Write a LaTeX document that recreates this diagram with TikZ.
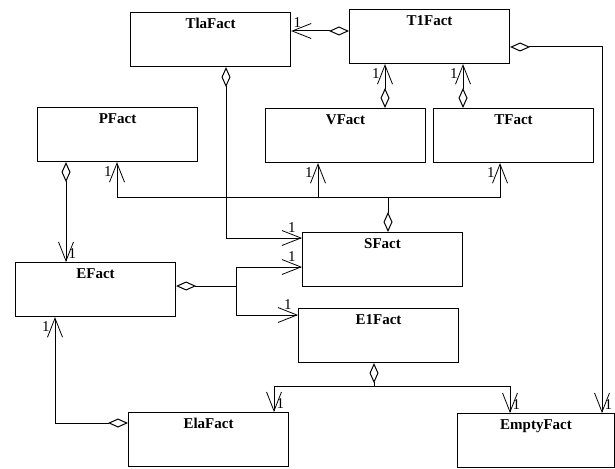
\documentclass[tikz,border=0pt]{standalone}
\usepackage{fontspec}
\setmainfont{Liberation Serif}
\usetikzlibrary{arrows.meta}

\begin{document}
\begin{tikzpicture}[
    x=1pt, y=-1pt,
    every node/.style={font=\fontsize{15}{17}\selectfont},
    cls/.style={
        draw, rectangle, line width=1.1pt, anchor=north west,
        minimum width=160pt, minimum height=54pt, inner ysep=4pt,
        text height=12pt, text depth=34pt,
        font=\fontsize{15}{17}\selectfont\bfseries,
    },
    line/.style={line width=1pt},
    agg/.style={line, {Diamond[open, length=20pt, width=9pt]}-{Straight Barb[length=19pt, width=15pt, line width=0.8pt]}},
    arr/.style={line, -{Straight Barb[length=19pt, width=15pt, line width=0.8pt]}},
    dia/.style={line, {Diamond[open, length=20pt, width=9pt]}-},
    mult/.style={inner sep=1pt},
]
\useasboundingbox (0,0) rectangle (615,468);

% ============================================================ the classes
\node[cls] (TlaFact) at (130,12) {TlaFact};
\node[cls] (T1Fact) at (349,9) {T1Fact};
\node[cls] (PFact) at (37,107) {PFact};
\node[cls] (VFact) at (265,108) {VFact};
\node[cls] (TFact) at (433,108) {TFact};
\node[cls] (EFact) at (15,262) {EFact};
\node[cls] (SFact) at (302,232) {SFact};
\node[cls] (E1Fact) at (298,308) {E1Fact};
\node[cls] (ElaFact) at (128,412) {ElaFact};
\node[cls, minimum width=157pt] (EmptyFact) at (457,413) {EmptyFact};

% bends and columns of the connectors
\coordinate (tRow) at (0,31);
\coordinate (vCol) at (385,0);
\coordinate (tCol) at (463,0);
\coordinate (eBend) at (602,47);
\coordinate (sBend) at (226,238);
\coordinate (sBus) at (388,197);
\coordinate (pCol) at (117,0);
\coordinate (wCol) at (318,0);
\coordinate (fCol) at (500,0);
\coordinate (eCol) at (66,0);
\coordinate (eJoin) at (236,286);
\coordinate (sRow) at (0,267);
\coordinate (qRow) at (0,315);
\coordinate (lBend) at (55,423);
\coordinate (qBus) at (374,386);
\coordinate (aCol) at (274,0);
\coordinate (mCol) at (510,0);

% ============================================================ T1Fact and its parts
\draw[agg] (T1Fact.west |- tRow) -- (TlaFact.east |- tRow)
    node[mult, anchor=south west, xshift=1pt, yshift=2pt] (m1) {1};
\draw[agg] (VFact.north -| vCol) -- (T1Fact.south -| vCol)
    node[mult, anchor=north east, xshift=-4pt, yshift=-3pt] (m2) {1};
\draw[agg] (TFact.north -| tCol) -- (T1Fact.south -| tCol)
    node[mult, anchor=north east, xshift=-4pt, yshift=-3pt] (m3) {1};
\draw[agg] (T1Fact.east |- eBend) -| (EmptyFact.north -| eBend)
    node[mult, anchor=south west, xshift=1pt, yshift=2pt] (m4) {1};

% ============================================================ SFact
\draw[agg] (TlaFact.south -| sBend) |- (SFact.west |- sBend)
    node[mult, anchor=south east, xshift=-5pt, yshift=4pt] (m5) {1};
\draw[dia] (SFact.north -| sBus) -- (sBus);
\draw[arr] (sBus) -| (PFact.south -| pCol)
    node[mult, anchor=north east, xshift=-4pt, yshift=-3pt] (m6) {1};
\draw[arr] (sBus) -| (VFact.south -| wCol)
    node[mult, anchor=north east, xshift=-4pt, yshift=-3pt] (m7) {1};
\draw[arr] (sBus) -| (TFact.south -| fCol)
    node[mult, anchor=north east, xshift=-4pt, yshift=-3pt] (m8) {1};

% ============================================================ EFact
\draw[agg] (PFact.south -| eCol) -- (EFact.north -| eCol)
    node[mult, anchor=south west, xshift=1pt, yshift=2pt] (m9) {1};
\draw[dia] (EFact.east |- eJoin) -- (eJoin);
\draw[arr] (eJoin) |- (SFact.west |- sRow)
    node[mult, anchor=south east, xshift=-5pt, yshift=4pt] (m10) {1};
\draw[arr] (eJoin) |- (E1Fact.west |- qRow)
    node[mult, anchor=south east, xshift=-5pt, yshift=4pt] (m11) {1};
\draw[agg] (ElaFact.west |- lBend) -| (EFact.south -| lBend)
    node[mult, anchor=north east, xshift=-4pt, yshift=-3pt] (m12) {1};

% ============================================================ E1Fact
\draw[dia] (E1Fact.south -| qBus) -- (qBus);
\draw[arr] (qBus) -| (ElaFact.north -| aCol)
    node[mult, anchor=south west, xshift=1pt, yshift=2pt] (m13) {1};
\draw[arr] (qBus) -| (EmptyFact.north -| mCol)
    node[mult, anchor=south west, xshift=1pt, yshift=2pt] (m14) {1};

\end{tikzpicture}
\end{document}
